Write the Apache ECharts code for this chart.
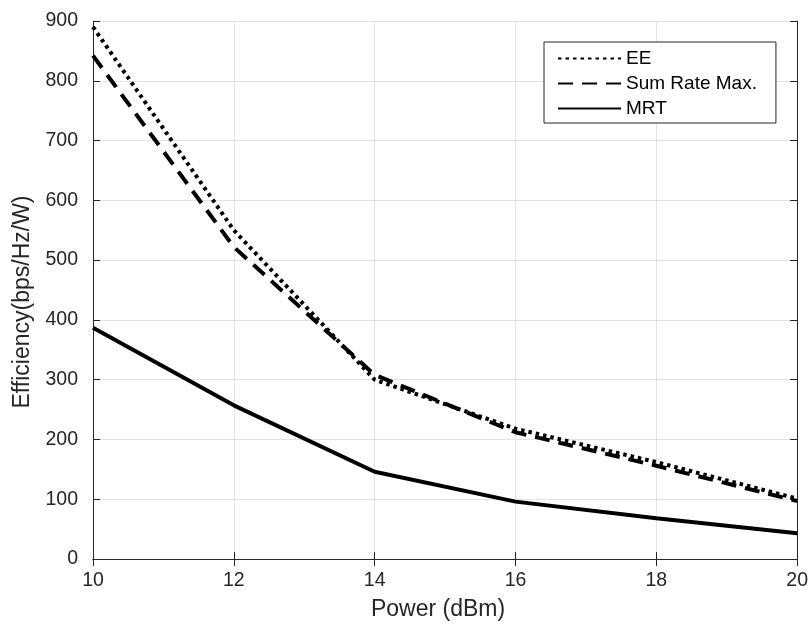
<!DOCTYPE html>
<html><head><meta charset="utf-8">
<script src="https://cdn.jsdelivr.net/npm/echarts@6/dist/echarts.min.js"></script>
<style>html,body{margin:0;padding:0;background:#fff}#c{width:811px;height:626px}</style>
</head><body><div id="c"></div>
<script>
const power = [10, 12, 14, 16, 18, 20];
const eeVals = [890, 550, 300, 218, 162, 101];
const sumRateVals = [842, 522, 308, 212, 156, 97];
const mrtVals = [387, 257, 146, 96, 68, 43];
const seriesNames = ['EE', 'Sum Rate Max.', 'MRT'];

const pairs = v => power.map((p, i) => [p, v[i]]);
const font = 'Liberation Sans, Arial, Helvetica, sans-serif';
const axisCol = '#262626';
const gridCol = '#e3e3e3';

const chart = echarts.init(document.getElementById('c'), null, {renderer: 'canvas'});
const baseAxis = {
  axisLine: {show: true, lineStyle: {color: axisCol, width: 1}},
  axisTick: {show: true, inside: true, length: 7, lineStyle: {color: axisCol}},
};
chart.setOption({
  animation: false,
  backgroundColor: '#fff',
  grid: {left: 93, right: 11, top: 21, bottom: 65, containLabel: false},
  legend: {
    left: 544, top: 42, orient: 'vertical',
    padding: [7, 19, 5, 13],
    itemGap: 6,
    itemWidth: 63, itemHeight: 14,
    itemTextGap: 7,
    borderColor: axisCol, borderWidth: 1,
    backgroundColor: '#fff',
    itemStyle: {color: 'rgba(0,0,0,0)', borderColor: 'rgba(0,0,0,0)', borderWidth: 0, opacity: 0},
    textStyle: {fontFamily: font, fontSize: 19, lineHeight: 19, color: '#000'},
    data: seriesNames
  },
  xAxis: [
    Object.assign({}, baseAxis, {
      type: 'value', min: 10, max: 20, interval: 2, position: 'bottom',
      name: 'Power (dBm)', nameLocation: 'middle', nameGap: 39,
      nameTextStyle: {fontFamily: font, fontSize: 23, color: axisCol, padding: [0, 14, 0, 0]},
      axisLabel: {fontFamily: font, fontSize: 19.5, color: axisCol, margin: 12},
      splitLine: {show: true, lineStyle: {color: gridCol, width: 1}}
    }),
    Object.assign({}, baseAxis, {
      type: 'value', min: 10, max: 20, interval: 2, position: 'top',
      axisLabel: {show: false}, splitLine: {show: false}
    })
  ],
  yAxis: [
    Object.assign({}, baseAxis, {
      type: 'value', min: 0, max: 900, interval: 100, position: 'left',
      name: 'Efficiency(bps/Hz/W)', nameLocation: 'middle', nameGap: 58,
      nameTextStyle: {fontFamily: font, fontSize: 23, color: axisCol, padding: [0, 24, 0, 0]},
      axisLabel: {fontFamily: font, fontSize: 19.5, color: axisCol, margin: 15},
      splitLine: {show: true, lineStyle: {color: gridCol, width: 1}}
    }),
    Object.assign({}, baseAxis, {
      type: 'value', min: 0, max: 900, interval: 100, position: 'right',
      axisLabel: {show: false}, splitLine: {show: false}
    })
  ],
  series: [
    {name: seriesNames[0], type: 'line', data: pairs(eeVals), symbol: 'none', z: 3,
     itemStyle: {color: '#000'},
     lineStyle: {color: '#000', width: 4, type: [3.5, 4], cap: 'butt'}},
    {name: seriesNames[1], type: 'line', data: pairs(sumRateVals), symbol: 'none', z: 2,
     itemStyle: {color: '#000'},
     lineStyle: {color: '#000', width: 4, type: [15, 9], cap: 'butt'}},
    {name: seriesNames[2], type: 'line', data: pairs(mrtVals), symbol: 'none', z: 2,
     itemStyle: {color: '#000'},
     lineStyle: {color: '#000', width: 4, type: 'solid'}}
  ]
});
</script></body></html>
